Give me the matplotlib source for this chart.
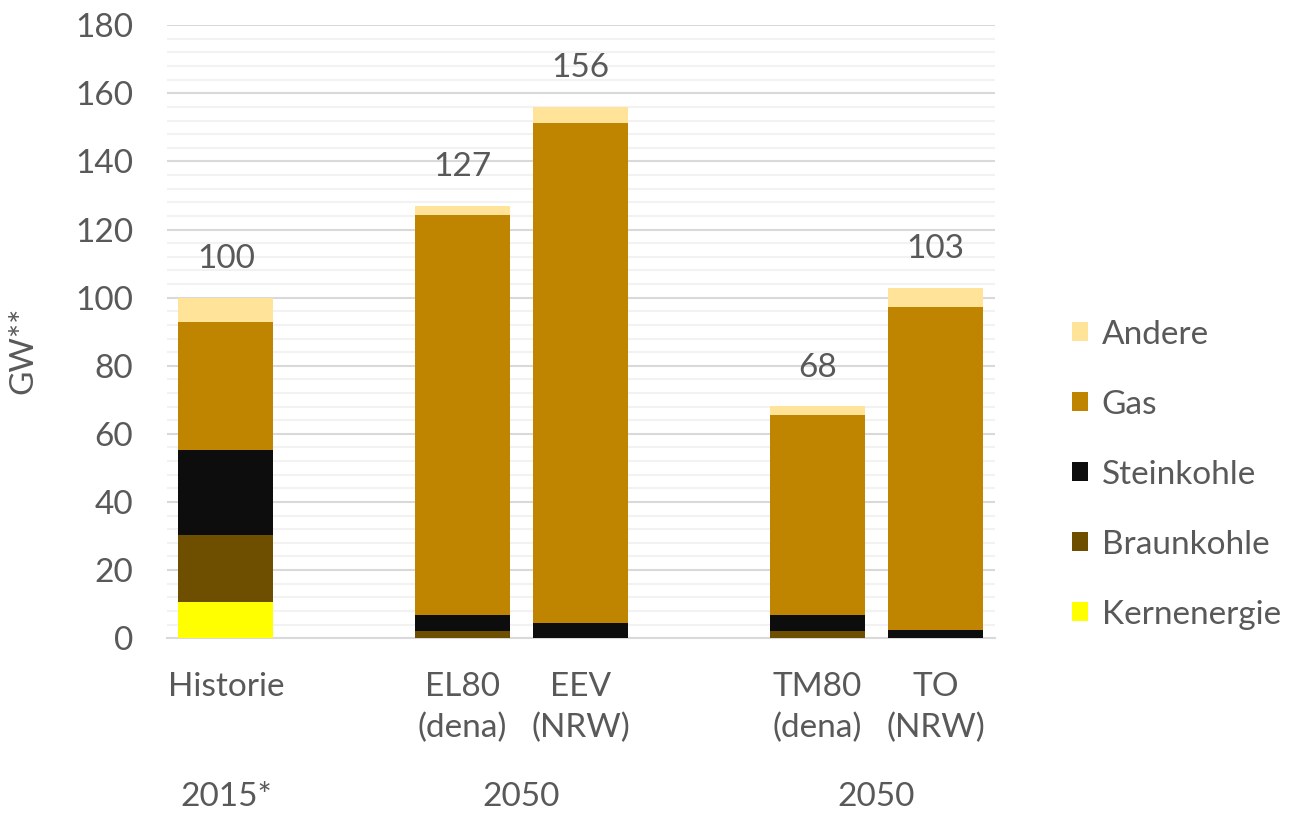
import numpy as np
import matplotlib.pyplot as plt
from matplotlib.patches import Patch
from matplotlib.ticker import MultipleLocator

plt.rcParams['font.family'] = ['Lato', 'DejaVu Sans']

# Installed capacity per scenario (GW)
scenarios = ['Historie', 'EL80\n(dena)', 'EEV\n(NRW)', 'TM80\n(dena)', 'TO\n(NRW)']
positions = [0, 2, 3, 5, 6]
groups = ['2015*', '2050', '2050']
group_pos = [0, 2.5, 5.5]

sources = ['Kernenergie', 'Braunkohle', 'Steinkohle', 'Gas', 'Andere']
colors = ['#ffff00', '#6e4f00', '#0d0d0d', '#bf8500', '#ffe399']

kernenergie = [10.6, 0.0, 0.0, 0.0, 0.0]
braunkohle = [19.6, 2.2, 0.0, 2.1, 0.0]
steinkohle = [25.1, 4.5, 4.4, 4.6, 2.5]
gas = [37.5, 117.5, 146.8, 58.8, 94.7]
andere = [7.2, 2.8, 4.8, 2.6, 5.5]
totals = [100, 127, 156, 68, 103]

series = [kernenergie, braunkohle, steinkohle, gas, andere]
text_color = '#595959'
fs = 24

fig = plt.figure(figsize=(13.02, 8.14), dpi=100)
ax = fig.add_axes([0.128, 0.216, 0.636, 0.753])

bottom = np.zeros(len(positions))
for vals, col in zip(series, colors):
    ax.bar(positions, vals, width=0.8, bottom=bottom, color=col, zorder=3)
    bottom += np.array(vals)

for x, t in zip(positions, totals):
    ax.text(x, t + 7, str(t), ha='center', va='bottom', fontsize=fs, color=text_color)

ax.set_xlim(-0.5, 6.5)
ax.set_ylim(0, 180)
ax.yaxis.set_major_locator(MultipleLocator(20))
ax.yaxis.set_minor_locator(MultipleLocator(4))
ax.grid(axis='y', which='major', color='#d9d9d9', linewidth=1.5, zorder=0)
ax.grid(axis='y', which='minor', color='#f2f2f2', linewidth=1.5, zorder=0)
ax.set_axisbelow(True)
for s in ['top', 'right', 'left']:
    ax.spines[s].set_visible(False)
ax.spines['bottom'].set_color('#d9d9d9')
ax.spines['bottom'].set_linewidth(1.5)

ax.tick_params(axis='both', which='both', length=0, labelsize=fs, labelcolor=text_color)
ax.tick_params(axis='y', pad=24)
ax.set_xticks(positions)
ax.set_xticklabels(scenarios, va='top', linespacing=1.45)
ax.tick_params(axis='x', pad=24)
ax.set_ylabel('GW**', fontsize=24, color=text_color)
ax.yaxis.set_label_coords(-0.155, 0.47)

for g, gx in zip(groups, group_pos):
    ax.text(gx, -0.259, g, transform=ax.get_xaxis_transform(), ha='center', va='center',
            fontsize=fs, color=text_color)

handles = [Patch(facecolor=c, label=l) for c, l in zip(colors, sources)][::-1]
fig.legend(handles=handles, loc='center left', bbox_to_anchor=(0.818, 0.417), frameon=False,
           fontsize=fs, labelcolor=text_color, handlelength=0.5, handleheight=0.5,
           handletextpad=0.4, labelspacing=1.2, borderpad=0.2, borderaxespad=0.0)

fig.savefig('out.png', dpi=100)
